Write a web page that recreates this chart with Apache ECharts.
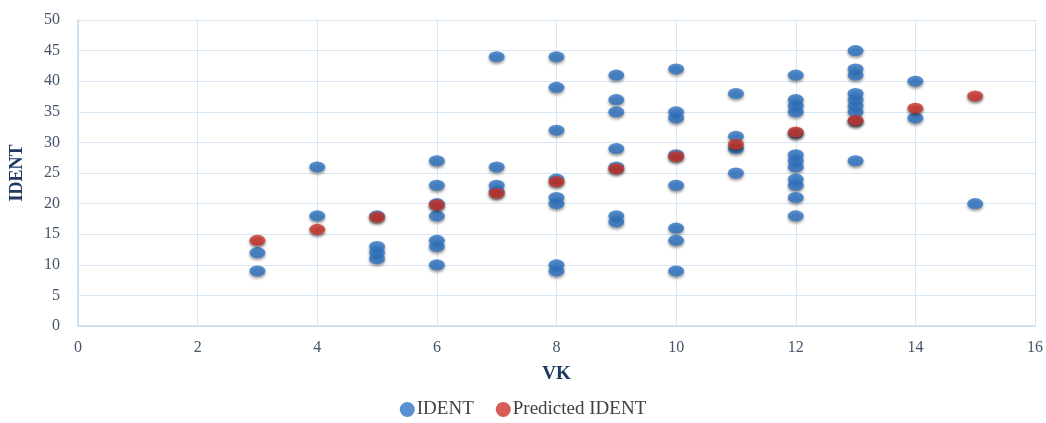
<!DOCTYPE html>
<html>
<head>
<meta charset="utf-8">
<script src="https://cdn.jsdelivr.net/npm/echarts@6/dist/echarts.min.js"></script>
<style>
  html, body { margin: 0; padding: 0; background: #fff; }
  #chart { width: 1046px; height: 423px; }
</style>
</head>
<body>
<div id="chart"></div>
<script>
// Observed IDENT values grouped by VK
const vkLevels = [3, 4, 5, 6, 7, 8, 9, 10, 11, 12, 13, 14, 15];
const identByVk = [
  [12, 9],
  [26, 18],
  [18, 13, 12, 11],
  [27, 23, 20, 18, 14, 13, 10],
  [44, 26, 23, 22],
  [44, 39, 32, 24, 21, 20, 10, 9],
  [41, 37, 35, 29, 26, 18, 17],
  [42, 35, 34, 28, 23, 16, 14, 9],
  [38, 31, 29, 25],
  [41, 37, 36, 35, 31.5, 28, 27, 26, 24, 23, 21, 18],
  [45, 42, 41, 38, 37, 36, 35, 33.5, 27],
  [40, 34],
  [20]
];
// Model prediction for each VK level
const predictedIdent = [14.0, 15.8, 17.8, 19.8, 21.7, 23.6, 25.7, 27.7, 29.7, 31.7, 33.6, 35.6, 37.6];

const xTicks = { min: 0, max: 16, interval: 2 };
const yTicks = { min: 0, max: 50, interval: 5 };

const observedPoints = [];
vkLevels.forEach((vk, i) => identByVk[i].forEach(v => observedPoints.push([vk, v])));
const predictedPoints = vkLevels.map((vk, i) => [vk, predictedIdent[i]]);

const serif = '"Liberation Serif", "DejaVu Serif", serif';
const tickColor = '#44546A';
const gridColor = '#D9E6F3';

const chart = echarts.init(document.getElementById('chart'), null, { renderer: 'canvas' });
chart.setOption({
  animation: false,
  backgroundColor: '#fff',
  grid: { left: 77, right: 11, top: 20, bottom: 97, containLabel: false },
  legend: {
    bottom: -1,
    left: 'center',
    itemGap: 22,
    itemWidth: 15,
    itemHeight: 15,
    icon: 'circle',
    textStyle: { fontFamily: serif, fontSize: 19, color: '#404040', padding: [0, 0, 0, -3] },
    data: ['IDENT', 'Predicted IDENT']
  },
  xAxis: {
    type: 'value',
    min: xTicks.min, max: xTicks.max, interval: xTicks.interval,
    name: 'VK',
    nameLocation: 'middle',
    nameGap: 39,
    nameTextStyle: { fontFamily: serif, fontSize: 19, fontWeight: 'bold', color: '#1F3864' },
    axisLine: { show: true, lineStyle: { color: '#C5D9EE', width: 1.5 } },
    axisTick: { show: false },
    axisLabel: { fontFamily: serif, fontSize: 16, color: tickColor, margin: 14 },
    splitLine: { show: true, lineStyle: { color: gridColor, width: 1 } }
  },
  yAxis: {
    type: 'value',
    min: yTicks.min, max: yTicks.max, interval: yTicks.interval,
    name: 'IDENT',
    nameLocation: 'middle',
    nameGap: 52,
    nameRotate: 90,
    nameTextStyle: { fontFamily: serif, fontSize: 18, fontWeight: 'bold', color: '#1F3864' },
    axisLine: { show: true, lineStyle: { color: '#C5D9EE', width: 1.5 } },
    axisTick: { show: false },
    axisLabel: { fontFamily: serif, fontSize: 16, color: tickColor, margin: 18 },
    splitLine: { show: true, lineStyle: { color: gridColor, width: 1 } }
  },
  series: [
    {
      name: 'IDENT',
      type: 'scatter',
      data: observedPoints,
      symbol: 'circle',
      symbolSize: [16, 11],
      itemStyle: {
        color: '#2E74C4',
        shadowColor: 'rgba(0,0,0,0.5)',
        shadowBlur: 3,
        shadowOffsetY: 2
      },
      z: 2
    },
    {
      name: 'Predicted IDENT',
      type: 'scatter',
      data: predictedPoints,
      symbol: 'circle',
      symbolSize: [16, 11],
      itemStyle: {
        color: '#CD352C',
        shadowColor: 'rgba(0,0,0,0.65)',
        shadowBlur: 3,
        shadowOffsetY: 2
      },
      z: 3
    }
  ]
});
</script>
</body>
</html>
